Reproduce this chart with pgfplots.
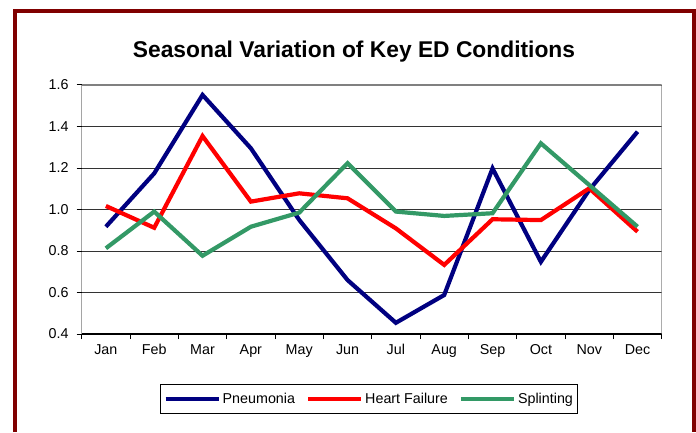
\documentclass[border=0pt]{standalone}
\usepackage{pgfplots}
\pgfplotsset{compat=1.18}
\usepackage{fontspec}
\setmainfont{Liberation Sans}
\definecolor{pneu}{RGB}{0,0,128}
\definecolor{hf}{RGB}{255,0,0}
\definecolor{spl}{RGB}{51,153,102}
\definecolor{frame}{RGB}{128,0,0}
\begin{document}
\begin{tikzpicture}[x=1bp,y=1bp]
\useasboundingbox (0,0) rectangle (696,432);
\draw[frame, line width=4bp] (14.7,0) -- (14.7,420.7) -- (694,420.7) -- (694,0);
\node[anchor=base, inner sep=0pt, font=\fontsize{22.8bp}{26bp}\selectfont\bfseries] at (354,374.7) {Seasonal Variation of Key ED Conditions};
\begin{axis}[
  at={(81.7bp,98bp)}, anchor=south west, scale only axis,
  width=580bp, height=249bp,
  xmin=-0.5, xmax=11.5, ymin=0.4, ymax=1.6,
  xtick={-0.5,0.5,1.5,2.5,3.5,4.5,5.5,6.5,7.5,8.5,9.5,10.5,11.5},
  xticklabels={Jan,Feb,Mar,Apr,May,Jun,Jul,Aug,Sep,Oct,Nov,Dec,{}},
  xticklabel style={xshift=24.17bp, yshift=-2bp},
  ytick={0.4,0.6,0.8,1.0,1.2,1.4,1.6},
  yticklabel style={xshift=-4.7bp, /pgf/number format/.cd, fixed, fixed zerofill, precision=1},
  /pgf/number format/assume math mode=true,
  ticklabel style={font=\fontsize{14.3bp}{17bp}\selectfont},
  tick align=outside, tick pos=left,
  major tick length=5bp,
  tick style={black, line width=1bp},
  ymajorgrids=true, xmajorgrids=false,
  major grid style={black!80, line width=0.8bp},
  axis line style={draw=none},
  legend style={at={(0.4957,-0.261)}, anchor=center, draw=black, line width=1bp,
    legend columns=-1, font=\fontsize{14.3bp}{17bp}\selectfont,
    inner xsep=3bp, inner ysep=6.5bp,
    /tikz/every even column/.append style={column sep=9bp}},
  legend image code/.code={\draw[#1, line width=4.2bp] (0bp,0bp) -- (53bp,0bp);},
]
\addplot[pneu, line width=4.2bp] coordinates {
 (0,0.917) (1,1.174) (2,1.552) (3,1.295) (4,0.95) (5,0.66)
 (6,0.454) (7,0.588) (8,1.198) (9,0.748) (10,1.094) (11,1.375)};
\addlegendentry{Pneumonia}
\addplot[hf, line width=4.2bp] coordinates {
 (0,1.017) (1,0.912) (2,1.354) (3,1.038) (4,1.078) (5,1.054)
 (6,0.909) (7,0.733) (8,0.953) (9,0.949) (10,1.102) (11,0.893)};
\addlegendentry{Heart Failure}
\addplot[spl, line width=4.2bp] coordinates {
 (0,0.813) (1,0.99) (2,0.777) (3,0.917) (4,0.985) (5,1.223)
 (6,0.99) (7,0.969) (8,0.982) (9,1.319) (10,1.118) (11,0.917)};
\addlegendentry{Splinting}
\draw[black!50, line width=1.5bp] (rel axis cs:0,1) -- (rel axis cs:1,1) -- (rel axis cs:1,0);
\draw[black, line width=1.3bp] (rel axis cs:0,1) -- (rel axis cs:0,0) -- (rel axis cs:1,0);
\end{axis}
\end{tikzpicture}
\end{document}
